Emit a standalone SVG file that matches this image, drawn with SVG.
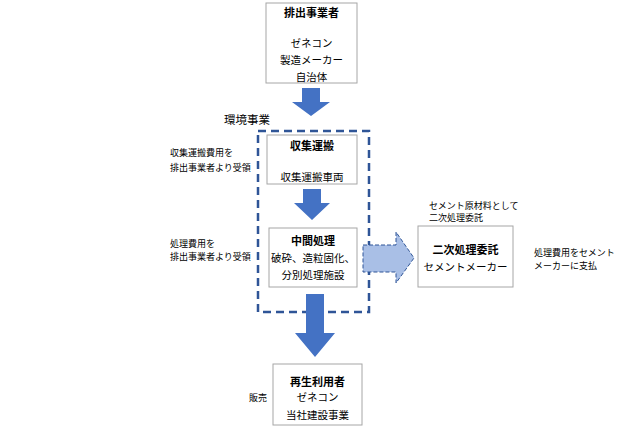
<svg xmlns="http://www.w3.org/2000/svg" width="634" height="446" viewBox="0 0 634 446">
<style>
text{font-family:"Noto Sans CJK JP","Noto Sans",sans-serif;fill:#000}
.box{fill:#fff;stroke:#a6a6a6;stroke-width:1}
.t{font-size:10.5px;text-anchor:middle}
.b{font-weight:bold;font-size:11px}
.s{font-size:9px}
.arr{fill:#4472c4}
</style>
<rect width="634" height="446" fill="#fff"/>
<g id="environment-group">
<rect x="258" y="131" width="111" height="181" fill="none" stroke="#2f5597" stroke-width="2.5" stroke-dasharray="8,5"/>
<text x="224" y="124" style="font-size:11.5px">環境事業</text>
</g>
<g id="node-emitter">
<rect class="box" x="266" y="3" width="91" height="80"/>
<text class="t b" x="311.5" y="17">排出事業者</text>
<text class="t" x="311.5" y="47">ゼネコン</text>
<text class="t" x="311.5" y="64">製造メーカー</text>
<text class="t" x="311.5" y="81">自治体</text>
</g>
<g id="node-collection">
<rect class="box" x="267" y="135" width="90" height="49"/>
<text class="t b" x="312" y="150">収集運搬</text>
<text class="t" x="312" y="181">収集運搬車両</text>
</g>
<g id="node-intermediate">
<rect class="box" x="269" y="228" width="88" height="59"/>
<text class="t b" x="313" y="245">中間処理</text>
<text class="t" x="313" y="262">破砕、造粒固化、</text>
<text class="t" x="313" y="279">分別処理施設</text>
</g>
<g id="node-secondary">
<rect class="box" x="418" y="226" width="95" height="61"/>
<text class="t b" x="465.5" y="254">二次処理委託</text>
<text class="t" x="465.5" y="271">セメントメーカー</text>
</g>
<g id="node-reuser">
<rect class="box" x="273" y="364" width="89" height="61"/>
<text class="t b" x="317.5" y="386">再生利用者</text>
<text class="t" x="317.5" y="401">ゼネコン</text>
<text class="t" x="317.5" y="419">当社建設事業</text>
</g>
<g id="labels">
<text class="s" x="170" y="155.5">収集運搬費用を</text>
<text class="s" x="170" y="170.5">排出事業者より受領</text>
<text class="s" x="170" y="246.5">処理費用を</text>
<text class="s" x="170" y="259.5">排出事業者より受領</text>
<text class="s" x="429" y="208.5">セメント原材料として</text>
<text class="s" x="429" y="220.5">二次処理委託</text>
<text class="s" x="534" y="255.5">処理費用をセメント</text>
<text class="s" x="534" y="268.5">メーカーに支払</text>
<text class="s" x="249" y="400.5">販売</text>
</g>
<g id="connectors">
<polygon class="arr" points="302,88 320,88 320,102 330,102 311,116 292,102 302,102"/>
<polygon class="arr" points="303,189 321,189 321,203 330,203 312,220 294,203 303,203"/>
<polygon class="arr" points="306,294 324,294 324,333 335,333 315,357 295,333 306,333"/>
<polygon points="363,245 396,245 396,232 414,258 396,283 396,272 363,272" fill="#a9bfe6" stroke="#2f5597" stroke-width="1" stroke-dasharray="4,2"/>
</g>
</svg>
